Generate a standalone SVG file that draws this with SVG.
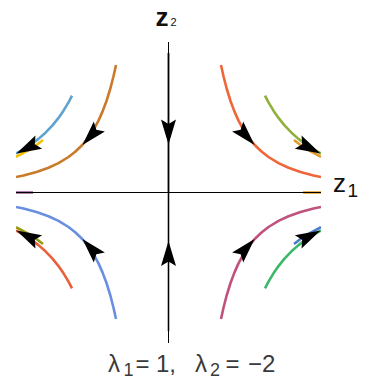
<svg xmlns="http://www.w3.org/2000/svg" xmlns:xlink="http://www.w3.org/1999/xlink" width="366" height="384" viewBox="0 0 366 384">
<style>
.traj{fill:none;stroke-width:2.6;stroke-linejoin:round;stroke-linecap:butt}
.axis{stroke:#000;stroke-width:1;fill:none}
.lbl{font-family:"Liberation Sans",Arial,sans-serif;fill:#111}
.cap{font-family:"Liberation Sans",Arial,sans-serif;fill:#3a3a3a}
</style>
<defs>
<path id="ah" d="M0,0 L-25,-7.5 L-20.5,0 L-25,7.5 Z" fill="#000"/>
<clipPath id="plot"><rect x="16" y="42" width="305" height="301"/></clipPath>
</defs>
<rect width="366" height="384" fill="#fff"/>
<g id="trajectories" clip-path="url(#plot)">
<path class="traj" stroke="#c97a2a" d="M116,65 L113.5,76.3 L110.5,88 L106.5,101 L102.5,111.6 L98.5,120.6 L93.5,129.8 L88.5,137.3 L82.5,144.7 L75.5,151.5 L68.5,157 L58.5,163.1 L48.5,167.7 L36.5,171.9 L23.5,175.4 L16,177"/>
<path class="traj" stroke="#f5be00" d="M43,140 L36.5,145 L28.5,150.2 L16,156.8"/>
<path class="traj" stroke="#5fa2cf" d="M72,95.7 L68.5,102.3 L63.5,110.7 L58.5,117.9 L52.5,125.4 L45.5,132.7 L38.5,138.9 L30.5,144.9 L23.5,149.3 L16,153.4"/>
<path class="traj" stroke="#ee663a" d="M221,65 L223.5,76.3 L226.5,88 L230.5,101 L234.5,111.6 L238.5,120.6 L243.5,129.8 L248.5,137.3 L254.5,144.7 L261.5,151.5 L268.5,157 L278.5,163.1 L288.5,167.7 L300.5,171.9 L313.5,175.4 L321,177"/>
<path class="traj" stroke="#e09a30" d="M294,140 L300.5,145 L308.5,150.2 L321,156.8"/>
<path class="traj" stroke="#8fb03a" d="M265,95.7 L268.5,102.3 L273.5,110.7 L278.5,117.9 L284.5,125.4 L291.5,132.7 L298.5,138.9 L306.5,144.9 L313.5,149.3 L321,153.4"/>
<path class="traj" stroke="#6a8fe0" d="M116,319 L113.5,307.7 L110.5,296 L106.5,283 L102.5,272.4 L98.5,263.4 L93.5,254.2 L88.5,246.7 L82.5,239.3 L75.5,232.5 L68.5,227 L58.5,220.9 L48.5,216.3 L36.5,212.1 L23.5,208.6 L16,207"/>
<path class="traj" stroke="#9a9a10" d="M43,244 L36.5,239 L28.5,233.8 L16,227.2"/>
<path class="traj" stroke="#e8603c" d="M72,288.3 L68.5,281.7 L63.5,273.3 L58.5,266.1 L52.5,258.6 L45.5,251.3 L38.5,245.1 L30.5,239.1 L23.5,234.7 L16,230.6"/>
<path class="traj" stroke="#c0527e" d="M221,319 L223.5,307.7 L226.5,296 L230.5,283 L234.5,272.4 L238.5,263.4 L243.5,254.2 L248.5,246.7 L254.5,239.3 L261.5,232.5 L268.5,227 L278.5,220.9 L288.5,216.3 L300.5,212.1 L313.5,208.6 L321,207"/>
<path class="traj" stroke="#4a7ac8" d="M294,244 L300.5,239 L308.5,233.8 L321,227.2"/>
<path class="traj" stroke="#3cb86a" d="M265,288.3 L268.5,281.7 L273.5,273.3 L278.5,266.1 L284.5,258.6 L291.5,251.3 L298.5,245.1 L306.5,239.1 L313.5,234.7 L321,230.6"/>
<path class="traj" stroke="#7a72b8" stroke-width="3.6" d="M168.5,53 L168.5,192.5"/>
<path class="traj" stroke="#e8a020" stroke-width="3.6" d="M168.5,192.5 L168.5,331"/>
<path class="traj" stroke="#a0609a" stroke-width="3" d="M16,192.5 L33,192.5"/>
<path class="traj" stroke="#e0a030" stroke-width="3" d="M303,192.5 L321,192.5"/>
</g>
<g id="axes">
<path class="axis" d="M16,192.5 H321"/>
<path class="axis" d="M168.5,42 V343"/>
</g>
<g id="arrowheads" clip-path="url(#plot)">
<use xlink:href="#ah" transform="translate(82.5,145) rotate(132.3)"/>
<use xlink:href="#ah" transform="translate(16.5,153.4) rotate(153.2)"/>
<use xlink:href="#ah" transform="translate(254.5,145) rotate(47.7)"/>
<use xlink:href="#ah" transform="translate(320.5,153.4) rotate(26.8)"/>
<use xlink:href="#ah" transform="translate(82.5,239) rotate(-132.3)"/>
<use xlink:href="#ah" transform="translate(16.5,230.6) rotate(-153.2)"/>
<use xlink:href="#ah" transform="translate(254.5,239) rotate(-47.7)"/>
<use xlink:href="#ah" transform="translate(320.5,230.6) rotate(-26.8)"/>
<use xlink:href="#ah" transform="translate(168.5,144.5) rotate(90)"/>
<use xlink:href="#ah" transform="translate(168.5,241) rotate(-90)"/>
</g>
<g id="labels">
<text class="lbl" x="155.5" y="26" font-size="26" font-weight="bold">z</text>
<text class="lbl" x="170.5" y="26" font-size="11">2</text>
<text class="lbl" x="333" y="192" font-size="26">z</text>
<text class="lbl" x="347.5" y="197" font-size="19">1</text>
<g class="cap" font-size="24">
<text x="108" y="372">λ</text>
<text x="123.5" y="376" font-size="18">1</text>
<text x="135.5" y="372">=</text>
<text x="156" y="372">1,</text>
<text x="195" y="372">λ</text>
<text x="210" y="376" font-size="18">2</text>
<text x="225.5" y="372">=</text>
<text x="248" y="372">−2</text>
</g>
</g>
</svg>
